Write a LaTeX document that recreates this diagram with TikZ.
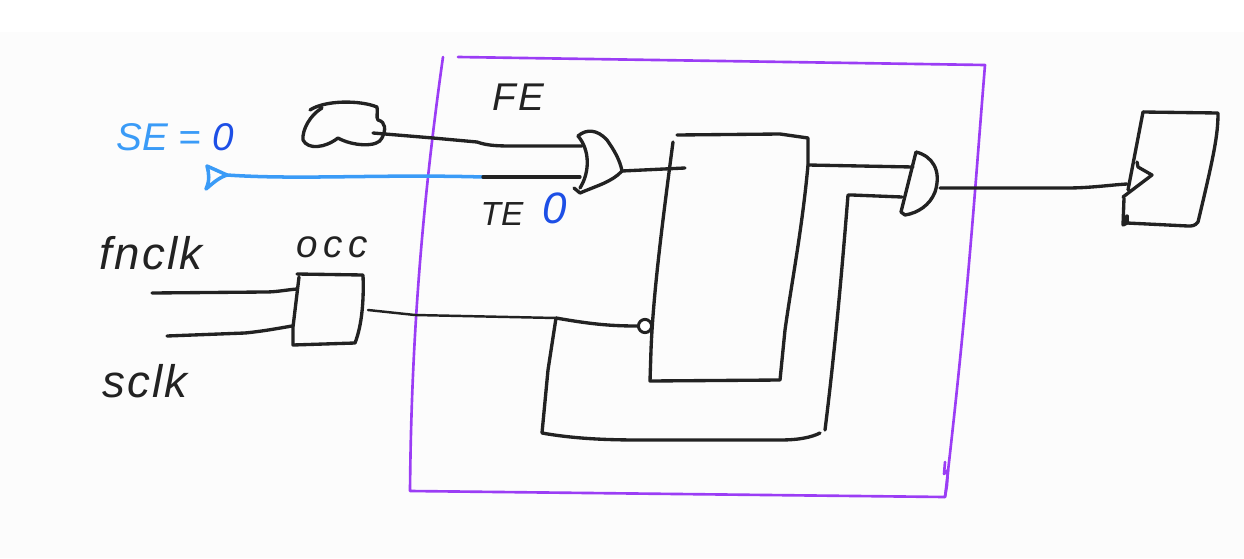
\documentclass[tikz,border=0pt]{standalone}
\usepackage{fontspec}
\setmainfont{Liberation Sans}
\definecolor{pagegray}{HTML}{FCFCFC}
\definecolor{inkblack}{HTML}{222222}
\definecolor{seblue}{HTML}{3A9BF7}
\definecolor{zeroblue}{HTML}{1D4FE6}
\definecolor{edgepurple}{HTML}{9B3DF5}
\tikzset{
  wire/.style = {draw = inkblack, line width = 1.9pt, line cap = round, line join = round},
  thinwire/.style = {draw = inkblack, line width = 1.4pt, line cap = round, line join = round},
  scanwire/.style = {draw = seblue, line width = 2pt, line cap = round, line join = round},
  edgeline/.style = {draw = edgepurple, line width = 1.5pt, line cap = round, line join = round},
  hand/.style = {font = \itshape\fontsize{22}{22}\selectfont\addfontfeature{LetterSpace = 6}, text = inkblack, inner sep = 0pt},
  bighand/.style = {font = \itshape\fontsize{26}{26}\selectfont\addfontfeature{LetterSpace = 5}, text = inkblack, inner sep = 0pt}
}
\begin{document}
\begin{tikzpicture}[x = .02cm, y = -.02cm]
      \useasboundingbox (0,0) rectangle (1244,558);
      \fill [pagegray] (0,32) rectangle (1244,558);

      \node [hand, text = seblue, font = \itshape\fontsize{22}{22}\selectfont] (selabel) at (175,137) {SE = \textcolor{zeroblue}{0}};
      \node [hand] (felabel) at (518,97) {FE};
      \node [hand, font = \itshape\fontsize{19}{19}\selectfont] (telabel) at (502,214) {TE};
      \node [hand, text = zeroblue, font = \itshape\fontsize{25}{25}\selectfont] (tezero) at (555,208) {0};
      \node [bighand] (fnclklabel) at (151,253) {fnclk};
      \node [hand, font = \itshape\fontsize{22}{22}\selectfont\addfontfeature{LetterSpace = 14}] (occlabel) at (332,247) {occ};
      \node [bighand] (sclklabel) at (145,381) {sclk};

      \coordinate (edgea) at (458,57);
      \coordinate (edgeb) at (985,65);
      \coordinate (edged) at (945,497);
      \coordinate (edgee) at (410,491);
      \coordinate (edgeh) at (443,57);
      \draw [edgeline] (edgea) -- (edgeb) .. controls (974,200) and (968,300) .. (edged) -- (edgee)
        .. controls (411,380) and (417,240) .. (edgeh);
      \draw [edgeline] (945,462) -- (944,474) -- (948,470) -- (947,485) -- (edged);

      \coordinate (cloudout) at (373,133);
      \draw [wire] (310,110) .. controls (325,100) and (360,100) .. (377,107)
        .. controls (378,112) and (376,118) .. (378,120)
        .. controls (386,122) and (386,130) .. (382,138)
        .. controls (378,148) and (352,146) .. (338,138)
        .. controls (325,148) and (308,150) .. (303,140)
        .. controls (302,130) and (310,115) .. (322,108);

      \coordinate (orina) at (582,146);
      \coordinate (orinb) at (580,177);
      \coordinate (orout) at (622,171);
      \draw [wire] (578,136) .. controls (586,129) and (597,129) .. (607,140)
        .. controls (614,150) and (620,160) .. (orout)
        .. controls (612,182) and (596,186) .. (580,193)
        -- (574,188);
      \draw [wire] (578,136) .. controls (590,150) and (590,172) .. (580,188);

      \coordinate (coreneck) at (677,135);
      \coordinate (coreright) at (808,138);
      \coordinate (coreout) at (808,165);
      \coordinate (corebr) at (780,380);
      \coordinate (corebl) at (650,381);
      \coordinate (coretop) at (673,142);
      \coordinate (corein) at (685,168);
      \draw [wire] (coreneck) -- (780,134) -- (coreright) -- (coreout)
        .. controls (802,230) and (792,280) .. (785,330) -- (corebr)
        -- (corebl) -- (651,350) .. controls (653,300) and (660,240) .. (coretop);
      \node [circle, draw = inkblack, line width = 1.7pt, fill = white, inner sep = 0pt,
             minimum width = 7.5pt] (clkpin) at (645,326) {};

      \coordinate (andina) at (913,167);
      \coordinate (andinb) at (902,197);
      \coordinate (andout) at (940,188);
      \draw [wire] (916,152) .. controls (932,156) and (942,170) .. (935,192)
        .. controls (930,205) and (918,213) .. (905,215) -- (901,212) -- (916,152);

      \coordinate (ffpin) at (1127,184);
      \draw [wire] (1143,112) -- (1218,113) .. controls (1218,135) and (1214,155) .. (1198,222)
        .. controls (1195,226) and (1192,226) .. (1188,226) -- (1127,223) -- (1123,225) -- (1124,198);
      \draw [wire] (1143,112) -- (1128,190);
      \draw [wire] (1137,162) -- (1138,167) -- (1152,175) -- (1123,197);
      \draw [wire] (1127,216) -- (1127,223);

      \coordinate (occnw) at (297,274);
      \coordinate (occne) at (363,275);
      \coordinate (occse) at (355,343);
      \coordinate (occsw) at (293,345);
      \coordinate (occina) at (297,289);
      \coordinate (occinb) at (292,326);
      \coordinate (occout) at (368,310);
      \draw [wire] (occnw) -- (occne) .. controls (364,300) and (362,325) .. (occse) -- (occsw) -- (293,327) -- (299,277);

      \coordinate (fnclkend) at (152,293);
      \coordinate (sclkend) at (167,336);
      \draw [wire] (fnclkend) -- (265,292) .. controls (277,292) and (285,290) .. (occina);
      \draw [wire] (sclkend) -- (245,333) .. controls (265,331) and (280,328) .. (occinb);

      \coordinate (senda) at (207,166);
      \coordinate (sendb) at (227,175);
      \coordinate (sendc) at (206,189);
      \coordinate (scanend) at (483,177);
      \draw [scanwire] (senda) -- (sendb) .. controls (218,178) and (212,184) .. (sendc) .. controls (210,180) and (209,174) .. (senda);
      \draw [scanwire] (sendb) .. controls (300,180) and (380,174) .. (scanend);
      \draw [wire] (scanend) -- (orinb);

      \coordinate (cloudbend) at (477,142);
      \draw [wire] (cloudout) -- (433,138) -- (cloudbend) .. controls (488,146) and (500,146) .. (515,146) -- (orina);
      \draw [wire] (orout) -- (corein);
      \draw [wire] (coreout) -- (andina);
      \draw [wire] (andout) -- (1067,188) .. controls (1090,188) and (1110,185) .. (ffpin);

      \coordinate (clktap) at (556,318);
      \draw [thinwire] (occout) -- (415,315) -- (clktap);
      \draw [wire] (clktap) .. controls (590,324) and (610,326) .. (clkpin);
      \coordinate (loopa) at (542,433);
      \coordinate (loopb) at (820,433);
      \coordinate (loopc) at (848,195);
      \draw [wire] (clktap) -- (548,370) -- (loopa) .. controls (570,438) and (600,440) .. (640,440)
        -- (780,440) .. controls (800,440) and (812,437) .. (loopb);
      \draw [wire] (825,430) .. controls (835,350) and (842,270) .. (loopc) -- (852,195) -- (andinb);
\end{tikzpicture}
\end{document}
